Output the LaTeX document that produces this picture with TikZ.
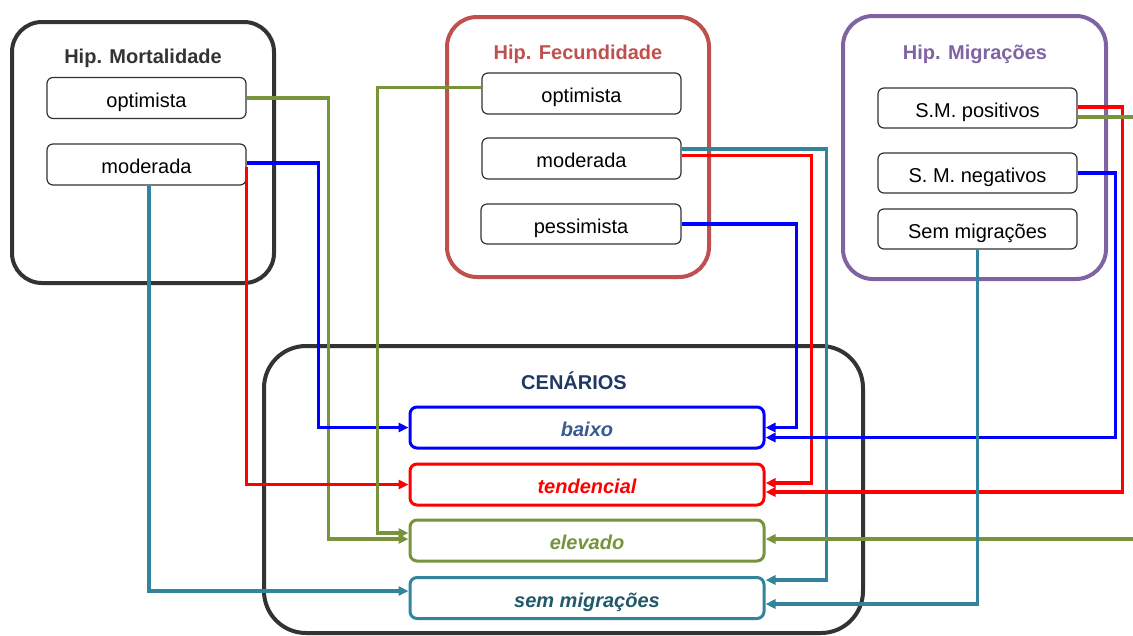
\documentclass[tikz,border=0pt]{standalone}
\usepackage{fontspec}
\setmainfont{Liberation Sans}
\usetikzlibrary{arrows.meta,calc}
\definecolor{cgreen}{HTML}{77933C}
\definecolor{cred}{HTML}{FF0000}
\definecolor{cblue}{HTML}{0000FF}
\definecolor{cteal}{HTML}{31849B}
\definecolor{cfec}{HTML}{C0504D}
\definecolor{cmig}{HTML}{8064A2}
\definecolor{cdark}{HTML}{333333}
\definecolor{cnavy}{HTML}{1F3864}
\definecolor{cbaixo}{HTML}{3B5A92}
\definecolor{csemm}{HTML}{215968}
\begin{document}
\begin{tikzpicture}[x=1pt,y=-1pt,
  font=\fontsize{20}{24}\selectfont,
  outerbox/.style={draw, line width=4pt, rounded corners=30pt, inner sep=0pt},
  hbox/.style={draw=black!80, line width=1.2pt, rounded corners=6pt, fill=white,
    minimum width=199pt, minimum height=41pt, inner sep=0pt, text height=22pt, text depth=4pt},
  cbox/.style={draw, line width=3pt, rounded corners=7pt, fill=white,
    minimum width=354pt, minimum height=41pt, inner sep=0pt, text height=22pt, text depth=4pt,
    font=\fontsize{20}{24}\selectfont\bfseries\itshape},
  title/.style={font=\fontsize{20}{24}\selectfont\bfseries, inner sep=0pt, anchor=base},
  conn/.style={line width=3.2pt, -{Triangle[length=10pt,width=9pt]}}
]
\useasboundingbox (0,0) rectangle (1133,635);
\clip (0,0) rectangle (1133,635);

% outer boxes
\node[outerbox, draw=cdark, minimum width=262pt, minimum height=261pt] (mort) at (143,152.5) {};
\node[outerbox, draw=cfec, minimum width=262pt, minimum height=260pt] (fec) at (578,147) {};
\node[outerbox, draw=cmig, minimum width=263pt, minimum height=263pt] (mig) at (974.5,147.5) {};
\node[outerbox, draw=cdark, rounded corners=42pt, minimum width=599pt, minimum height=287pt] (cen) at (563.5,489.5) {};

% titles
\node[title, text=cdark] (tmort) at (143,63) {Hip. Mortalidade};
\node[title, text=cfec] (tfec) at (578,59) {Hip. Fecundidade};
\node[title, text=cmig] (tmig) at (975,59) {Hip. Migrações};
\node[title, text=cnavy] (tcen) at (574,389) {CENÁRIOS};

% scenario boxes
\node[cbox, draw=cblue, text=cbaixo] (baixo) at (587,427.5) {baixo};
\node[cbox, draw=cred, text=cred] (tend) at (587,484.5) {tendencial};
\node[cbox, draw=cgreen, text=cgreen] (elev) at (587,540.5) {elevado};
\node[cbox, draw=cteal, text=csemm] (semm) at (587,598) {sem migrações};

% hypothesis boxes
\node[hbox] (mopt) at (146.5,98) {optimista};
\node[hbox] (mmod) at (146.5,164.5) {moderada};
\node[hbox] (fopt) at (581.5,93.5) {optimista};
\node[hbox] (fmod) at (581.5,158.5) {moderada};
\node[hbox, minimum width=200pt, minimum height=40pt] (fpes) at (581,224) {pessimista};
\node[hbox, minimum height=40pt] (gpos) at (977.5,108) {S.M. positivos};
\node[hbox, minimum height=40pt] (gneg) at (977.5,173) {S. M. negativos};
\node[hbox, minimum height=40pt] (gsem) at (977.5,229) {Sem migrações};

% connectors from mortality
\draw[conn, cgreen] (mopt.east) -- ++(82,0) |- ($(elev.west)+(0,-1.5)$);
\draw[conn, cblue] ($(mmod.east)+(0,-1.5)$) -- ++(72,0) |- (baixo.west);
\draw[conn, cred] ($(mmod.east)+(0,2)$) |- (tend.west);
\draw[conn, cteal] ($(mmod.south)+(2.5,0)$) |- ($(semm.west)+(0,-7)$);

% connectors from fertility
\draw[conn, cgreen] ($(fopt.west)+(0,-6)$) -- ++(-104,0) |- ($(elev.west)+(0,-7.5)$);
\draw[conn, cteal] ($(fmod.east)+(0,-9.5)$) -- ++(145,0) |- ($(semm.east)+(0,-18)$);
\draw[conn, cred] ($(fmod.east)+(0,-3)$) -- ++(130,0) |- ($(tend.east)+(0,-1.5)$);
\draw[conn, cblue] (fpes.east) -- ++(115,0) |- (baixo.east);

% connectors from migration
\draw[conn, cred] ($(gpos.east)+(0,-1)$) -- ++(45,0) |- ($(tend.east)+(0,7.5)$);
\draw[conn, cgreen] ($(gpos.east)+(0,9)$) -- ++(80,0) |- ($(elev.east)+(0,-1.5)$);
\draw[conn, cblue] (gneg.east) -- ++(38,0) |- ($(baixo.east)+(0,10)$);
\draw[conn, cteal] (gsem.south) |- ($(semm.east)+(0,6)$);
\end{tikzpicture}
\end{document}
